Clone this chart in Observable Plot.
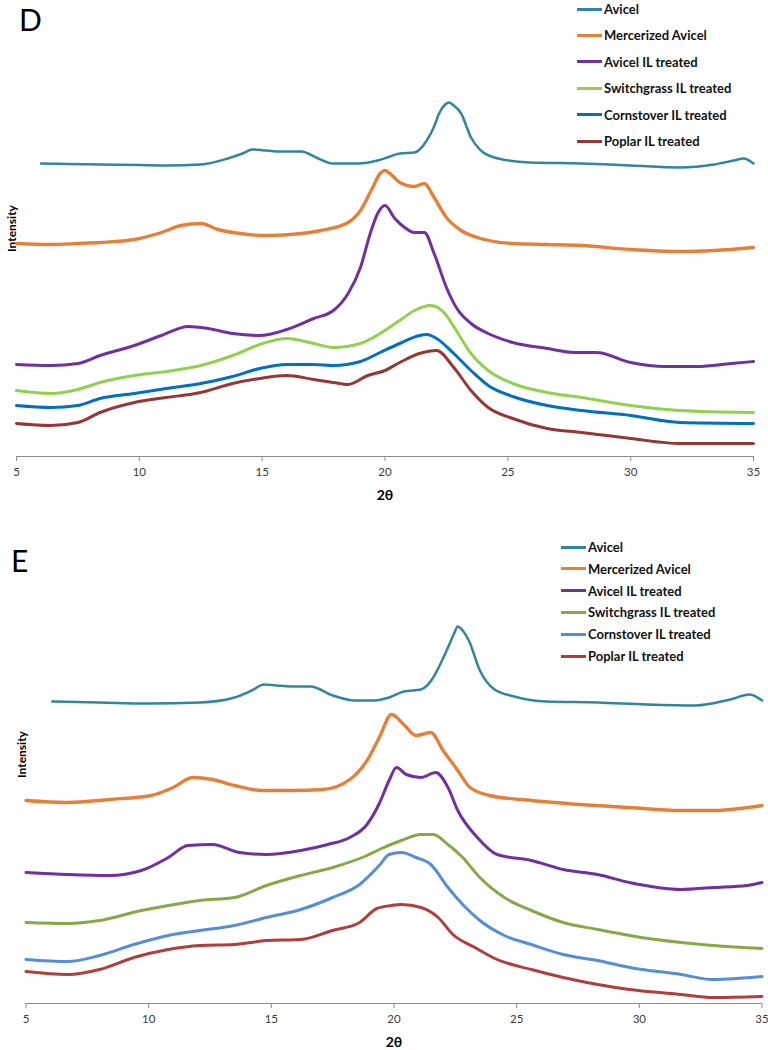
<!DOCTYPE html>
<html><head><meta charset="utf-8">
<script src="https://cdn.jsdelivr.net/npm/d3@7"></script>
<script src="https://cdn.jsdelivr.net/npm/@observablehq/plot@0.6"></script>
<style>
body{margin:0;background:#fff;}
#wrap{position:relative;width:768px;height:1050px;overflow:hidden;font-family:Lato,"Open Sans",sans-serif;}
.panel{position:absolute;left:0;}
.big{position:absolute;font-size:30px;font-weight:400;line-height:38px;color:#000;}
.legend{position:absolute;font-weight:700;font-size:13px;color:#111;}
.row{position:absolute;left:0;display:flex;align-items:center;white-space:nowrap;height:16px;}
.sw{width:25px;height:3px;margin-right:2px;}
</style></head>
<body><div id="wrap"></div>
<script>
// ---------- data ----------
const seriesNames = ["Avicel","Mercerized Avicel","Avicel IL treated","Switchgrass IL treated","Cornstover IL treated","Poplar IL treated"];
const xTicks = [5,10,15,20,25,30,35];

// Panel D  [2θ, intensity]
const dAvicel = [[6.0,293],[7,292.5],[8.4,292],[10,291.5],[11.1,291],[12.5,292],[13.6,298],[14.2,303],[14.6,307],[15.2,306],[15.7,305],[16.6,305],[17.2,299],[17.9,293],[18.9,293],[19.7,296],[20.2,300],[20.6,303],[21.2,304],[21.7,316],[22.0,330],[22.2,343],[22.45,352],[22.6,354],[22.8,351],[23.1,343],[23.5,319],[23.9,306],[24.6,298],[25.9,294],[28,293],[30,291],[32,289],[33.4,292],[34.2,296],[34.6,298],[35,293]];
const dMerc = [[5,213],[6.4,212],[7.5,213],[8.4,214],[9.8,217],[10.9,224],[11.7,231],[12.5,233],[13.2,227],[14.1,223],[15.2,221],[16.6,223],[17.4,226],[18.5,234],[19,246],[19.5,269],[19.8,283],[20,286],[20.2,283],[20.6,274],[21.2,270],[21.6,273],[22,259],[22.5,239],[23.1,226],[23.9,218],[25.2,213],[26.6,212],[28,211],[30,207],[32,205],[33.4,206],[35,209]];
const dAvicelIL = [[5,92],[6.4,91],[7.5,93],[8.4,101],[9.8,111],[10.9,121],[12,130],[12.8,128],[13.8,123],[14.9,121],[16,127],[17.1,138],[17.9,146],[18.5,163],[19,189],[19.4,223],[19.7,243],[20,251],[20.4,238],[20.8,229],[21.2,224],[21.6,224],[22,203],[22.5,169],[22.9,149],[23.5,133],[24.2,123],[25.2,114],[26.6,108],[27.7,104],[28.6,104],[30,94],[31.4,90],[32.7,90],[34.1,93],[35,95]];
const dSwitch = [[5,66],[6.4,63],[7.5,67],[8.4,74],[9.8,81],[11.1,85],[12.5,91],[13.8,101],[14.9,112],[16,118],[17.1,113],[17.9,109],[19,113],[19.8,123],[20.6,136],[21.2,146],[21.85,151],[22.4,144],[22.9,126],[23.5,103],[24.2,86],[25.2,73],[26.6,64],[28,59],[30,51],[32,46],[35,44]];
const dCorn = [[5,51],[6.4,49],[7.5,51],[8.4,58],[9.8,63],[11.1,68],[12.5,73],[13.8,80],[14.9,88],[16,92],[17.1,92],[17.9,91],[19,95],[19.8,104],[20.6,113],[21.4,121],[21.7,122],[22.1,118],[22.8,103],[23.5,86],[24.2,71],[25.2,60],[26.6,51],[28,46],[30,41],[32,34],[35,33]];
const dPoplar = [[5,33],[6.4,31],[7.5,34],[8.4,44],[9.8,54],[11.1,59],[12.5,64],[13.8,73],[14.9,78],[16,81],[17.1,77],[17.9,74],[18.5,72],[19.3,81],[20,86],[20.6,94],[21.4,103],[22.1,106],[22.8,89],[23.5,66],[24.2,49],[25.2,38],[26.6,28],[28,24],[30,18],[32,13],[35,13]];

// Panel E  [2θ, intensity]
const eAvicel = [[6.07,302],[8,301],[10,300],[12.1,301],[13.5,306],[14.2,313],[14.7,319],[15.2,318],[15.8,317],[16.6,317],[17.5,308],[18.4,303],[19.2,303],[19.8,306],[20.4,312],[21.1,314],[21.6,326],[21.9,340],[22.2,356],[22.45,370],[22.6,377],[22.8,373],[23.05,363],[23.5,333],[24.1,314],[24.9,307],[26.2,302],[28.3,301],[30.3,299],[32.3,298],[33.7,304],[34.5,309],[35,303]];
const eMerc = [[5,203],[6.7,201],[8.4,204],[10.1,208],[11,216],[11.8,226],[12.6,224],[13.5,218],[14.6,213],[15.8,213],[17.1,214],[18.2,224],[18.9,243],[19.4,266],[19.9,289],[20.4,279],[20.9,268],[21.5,271],[22,253],[22.6,233],[23.1,216],[23.9,208],[25.6,203],[27.6,199],[29.6,196],[31.7,193],[33,193],[35,198]];
const eAvicelIL = [[5,131],[6.7,129],[8.4,128],[9.7,133],[10.8,146],[11.6,158],[12.6,159],[13.7,151],[14.8,149],[16.2,153],[17.3,159],[18.2,166],[18.9,179],[19.4,200],[19.8,223],[20.1,236],[20.5,229],[21.1,226],[21.7,231],[22.2,216],[22.6,193],[23.4,166],[24.2,149],[25.6,143],[26.9,134],[28.3,129],[29.6,121],[31.7,114],[33,116],[34.4,118],[35,121]];
const eSwitch = [[5,81],[6.7,80],[8,83],[9.7,93],[10.8,98],[12.1,103],[13.5,106],[14.8,118],[16.2,128],[17.5,136],[18.9,148],[19.4,154],[20.3,163],[21.1,169],[21.6,169],[22.2,159],[22.8,146],[23.5,126],[24.5,106],[25.6,93],[26.9,81],[28.3,74],[29.6,68],[31.7,61],[33,58],[35,55]];
const eCorn = [[5,44],[6.7,42],[8,48],[9.4,59],[10.8,68],[12.1,73],[13.5,78],[14.8,86],[16.2,94],[17.5,106],[18.6,119],[19.4,138],[19.8,149],[20.3,151],[20.9,146],[21.5,139],[22.2,116],[22.8,99],[23.5,83],[24.5,68],[25.6,59],[26.9,49],[28.3,43],[29.6,36],[31.7,29],[33,24],[35,27]];
const ePoplar = [[5,32],[6.7,29],[8,34],[9.4,46],[10.8,54],[12.1,58],[13.5,59],[14.8,63],[16.2,64],[17.5,73],[18.6,81],[19.3,95],[19.9,98],[20.3,99],[21.1,96],[21.8,86],[22.4,69],[23.3,56],[24.2,44],[25.6,34],[26.9,26],[28.3,19],[29.6,14],[31.7,9],[33,6],[35,7]];

const dColors = ["#31859C","#E5803B","#7030A0","#92D050","#0070C0","#953735"];
const eColors = ["#31859C","#E5803B","#7030A0","#86A846","#558ED5","#AE3F3B"];
const lineWidths = [2.5,3.4,3,3,3,3];

// ---------- build ----------
function rows(list){
  const out=[];
  list.forEach((s,i)=>s.forEach(([x,y])=>out.push({series:seriesNames[i],x,y})));
  return out;
}
const wrap=document.getElementById("wrap");

function panel(cfg){
  const lineMarks=cfg.series.map((s,i)=>Plot.line(rows(cfg.series.map((t,j)=>j===i?t:[])),
    {x:"x",y:"y",stroke:"series",strokeWidth:lineWidths[i],curve:"monotone-x",strokeLinejoin:"round"}));
  const chart=Plot.plot({
    width:768,height:cfg.height,
    marginLeft:cfg.ml,marginRight:cfg.mr,marginTop:0,marginBottom:cfg.mb,
    style:{fontFamily:"Lato, sans-serif",background:"transparent",overflow:"visible"},
    x:{domain:[5,35]},
    y:{domain:[0,cfg.ytop]},
    color:{domain:seriesNames,range:cfg.colors},
    marks:[
      Plot.ruleY([0],{stroke:"#8c8c8c",strokeWidth:1.2}),
      Plot.axisX({ticks:xTicks,tickSize:5,tickPadding:6,fontSize:12,stroke:"#8c8c8c",
        label:"2θ",labelAnchor:"center",labelOffset:43,labelArrow:"none"}),
      Plot.axisY({ticks:[],tickSize:0,label:"Intensity",labelAnchor:"center",labelOffset:cfg.yLabOff,labelArrow:"none"}),
      ...lineMarks
    ]
  });
  chart.classList.add("panel");
  chart.style.top=cfg.top+"px";
  wrap.appendChild(chart);
  chart.querySelectorAll('g[aria-label="x-axis tick label"] text').forEach(t=>{t.setAttribute("fill","#3a3a3a");t.style.fontSize="11.5px";});
  chart.querySelectorAll('g[aria-label="x-axis label"] text').forEach(t=>{t.style.fontWeight="700";t.style.fontSize="14px";t.setAttribute("fill","#000");});
  chart.querySelectorAll('g[aria-label="y-axis label"] text').forEach(t=>{t.style.fontWeight="700";t.style.fontSize="12px";t.setAttribute("fill","#000");});

  const big=document.createElement("div");
  big.className="big";big.textContent=cfg.letter;
  big.style.left=cfg.letterX+"px";big.style.top=cfg.letterY+"px";
  wrap.appendChild(big);

  const lg=document.createElement("div");
  lg.className="legend";lg.style.left=cfg.legX+"px";lg.style.top=cfg.legY+"px";
  seriesNames.forEach((n,i)=>{
    const r=document.createElement("div");r.className="row";r.style.top=(i*cfg.legStep)+"px";
    const sw=document.createElement("span");sw.className="sw";sw.style.background=cfg.colors[i];
    const tx=document.createElement("span");tx.textContent=n;
    r.appendChild(sw);r.appendChild(tx);lg.appendChild(r);
  });
  wrap.appendChild(lg);
}

panel({top:0,height:505,ml:16,mr:15,mb:49,ytop:456,yLabOff:9,
  series:[dAvicel,dMerc,dAvicelIL,dSwitch,dCorn,dPoplar],colors:dColors,
  letter:"D",letterX:19,letterY:0,legX:577,legY:1,legStep:26.4});
panel({top:505,height:545,ml:25.5,mr:6.5,mb:47,ytop:498,yLabOff:8.5,
  series:[eAvicel,eMerc,eAvicelIL,eSwitch,eCorn,ePoplar],colors:eColors,
  letter:"E",letterX:11,letterY:541,legX:561,legY:539,legStep:21.8});
</script></body></html>
